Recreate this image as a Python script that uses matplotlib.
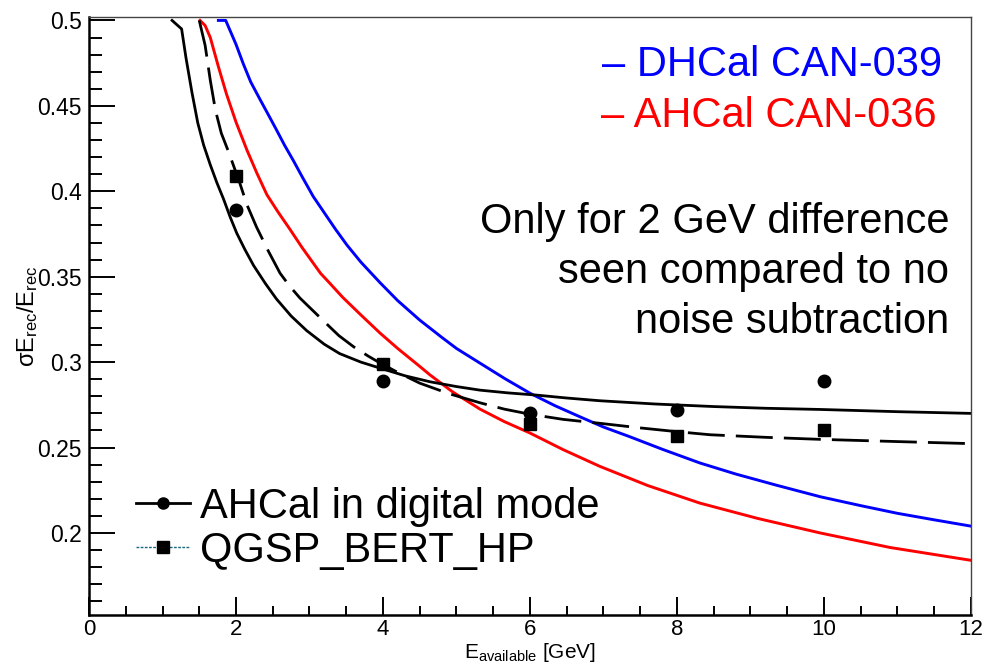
import matplotlib
matplotlib.use("Agg")
import matplotlib.pyplot as plt
from matplotlib.lines import Line2D
from matplotlib.ticker import MultipleLocator, FuncFormatter

plt.rcParams['font.family'] = ['Liberation Sans', 'DejaVu Sans']
plt.rcParams['mathtext.default'] = 'regular'

# ---- data ----
meas_E = [2, 4, 6, 8, 10]
ahcal_digital = [0.389, 0.289, 0.270, 0.272, 0.289]
qgsp_bert_hp = [0.409, 0.299, 0.264, 0.257, 0.260]

fit_digital_E = [1.13, 1.26, 1.32, 1.40, 1.48, 1.56, 1.65, 1.74, 1.83, 1.92, 2.01, 2.12,
                 2.24, 2.40, 2.55, 2.75, 2.96, 3.20, 3.41, 3.70, 3.96, 4.30, 4.64, 5.00,
                 5.32, 5.70, 6.09, 6.50, 6.95, 7.70, 8.50, 9.20, 9.95, 11.0, 12.0]
fit_digital_y = [0.500, 0.495, 0.478, 0.458, 0.440, 0.427, 0.4155, 0.405, 0.3955, 0.385,
                 0.3755, 0.366, 0.3565, 0.346, 0.337, 0.327, 0.3185, 0.3105, 0.305, 0.300,
                 0.2965, 0.292, 0.2885, 0.2857, 0.2836, 0.282, 0.2807, 0.279, 0.2774,
                 0.2755, 0.274, 0.273, 0.2723, 0.271, 0.270]

fit_qgsp_E = [1.50, 1.58, 1.65, 1.72, 1.80, 1.895, 2.00, 2.05, 2.15, 2.28, 2.44, 2.60,
              2.73, 2.87, 3.05, 3.23, 3.40, 3.60, 3.80, 3.96, 4.20, 4.50, 4.90, 5.32,
              5.65, 6.00, 6.45, 6.95, 7.50, 8.00, 8.45, 9.20, 9.95, 11.0, 12.0]
fit_qgsp_y = [0.500, 0.4854, 0.465, 0.4475, 0.434, 0.4235, 0.411, 0.405, 0.392, 0.379,
              0.365, 0.352, 0.3445, 0.3375, 0.330, 0.3225, 0.3155, 0.309, 0.3035, 0.2995,
              0.294, 0.2877, 0.2815, 0.2762, 0.2725, 0.2695, 0.2665, 0.2642, 0.2615,
              0.2593, 0.2575, 0.256, 0.2548, 0.2535, 0.2523]

dhcal_E = [1.76, 1.86, 2.00, 2.10, 2.20, 2.33, 2.45, 2.55, 2.66, 2.78, 2.90, 3.05, 3.20,
           3.35, 3.51, 3.70, 3.96, 4.20, 4.50, 4.80, 5.00, 5.32, 5.66, 6.00, 6.34, 6.68,
           7.00, 7.36, 7.80, 8.31, 8.80, 9.35, 9.95, 10.5, 11.0, 11.5, 12.0]
dhcal_y = [0.500, 0.500, 0.486, 0.4745, 0.464, 0.4535, 0.444, 0.436, 0.427, 0.418,
           0.4085, 0.397, 0.3875, 0.378, 0.3685, 0.3585, 0.3465, 0.336, 0.3246, 0.3145,
           0.308, 0.2994, 0.2903, 0.2818, 0.2745, 0.268, 0.262, 0.2563, 0.249, 0.241,
           0.2345, 0.228, 0.2212, 0.216, 0.2115, 0.2077, 0.204]

ahcal_E = [1.51, 1.58, 1.65, 1.76, 1.87, 2.00, 2.15, 2.28, 2.42, 2.57, 2.73, 2.90, 3.05,
           3.15, 3.28, 3.45, 3.69, 3.96, 4.20, 4.50, 4.64, 4.95, 5.32, 5.65, 6.00, 6.45,
           6.95, 7.60, 8.31, 9.10, 9.95, 10.9, 12.0]
ahcal_y = [0.500, 0.497, 0.490, 0.473, 0.457, 0.4405, 0.424, 0.411, 0.398, 0.388, 0.378,
           0.367, 0.358, 0.352, 0.346, 0.338, 0.328, 0.317, 0.308, 0.2975, 0.2925, 0.2825,
           0.2725, 0.2652, 0.2585, 0.2488, 0.2390, 0.2278, 0.2175, 0.2085, 0.200, 0.1915,
           0.184]

x_ticks = [0, 2, 4, 6, 8, 10, 12]
y_ticks = [0.2, 0.25, 0.3, 0.35, 0.4, 0.45, 0.5]

# ---- figure ----
fig = plt.figure(figsize=(9.86, 6.67), dpi=100)
ax = fig.add_axes([89/986, 1 - 615/667, 882/986, 598/667])

ax.plot(dhcal_E, dhcal_y, color='#0000ff', lw=2.1, solid_joinstyle='round')
ax.plot(ahcal_E, ahcal_y, color='#ff0000', lw=2.1, solid_joinstyle='round')
ax.plot(fit_digital_E, fit_digital_y, color='black', lw=2.0, solid_joinstyle='round')
ax.plot(fit_qgsp_E, fit_qgsp_y, color='black', lw=2.0, linestyle=(0, (13.3, 4.0)))

ax.plot(meas_E, ahcal_digital, 'o', color='black', ms=9, ls='none')
ax.plot(meas_E, qgsp_bert_hp, 's', color='black', ms=9, ls='none')

ax.set_xlim(0, 12)
ax.set_ylim(0.152, 0.502)
ax.set_xticks(x_ticks)
ax.set_yticks(y_ticks)
ax.xaxis.set_minor_locator(MultipleLocator(0.5))
ax.yaxis.set_minor_locator(MultipleLocator(0.01))
ax.yaxis.set_major_formatter(FuncFormatter(lambda v, p: '%g' % round(v, 3)))
ax.xaxis.set_major_formatter(FuncFormatter(lambda v, p: '%g' % v))

ax.tick_params(axis='both', which='both', direction='in', top=False, right=False,
               width=1.4, colors='black')
ax.tick_params(axis='y', which='major', length=18.5, pad=5, labelsize=16.5)
ax.tick_params(axis='y', which='minor', length=9)
ax.tick_params(axis='x', which='major', length=13, pad=3, labelsize=16)
ax.tick_params(axis='x', which='minor', length=6.5)

for s in ('left', 'bottom'):
    ax.spines[s].set_linewidth(1.8)
for s in ('top', 'right'):
    ax.spines[s].set_linewidth(1.0)
    ax.spines[s].set_color('#444444')

ax.set_ylabel('σE$_{rec}$/E$_{rec}$', fontsize=17)
ax.yaxis.set_label_coords(-0.0556, 0.5)

# x-axis title as a free text placed just below the tick labels
xlab = fig.text(0.5375, 0.0, 'E$_{available}$ [GeV]', fontsize=16, ha='center', va='bottom')

ax.text(0.967, 0.901, '– DHCal CAN-039', transform=ax.transAxes, ha='right',
        va='baseline', fontsize=30, color='#0000ff')
ax.text(0.961, 0.8165, '– AHCal CAN-036', transform=ax.transAxes, ha='right',
        va='baseline', fontsize=30, color='#ff0000')
for txt, yy in [('Only for 2 GeV difference', 0.6393),
                ('seen compared to no', 0.5547),
                ('noise subtraction', 0.4711)]:
    ax.text(0.9754, yy, txt, transform=ax.transAxes, ha='right', va='baseline',
            fontsize=30, color='black')

handles = [
    Line2D([], [], color='black', lw=2.0, marker='o', ms=8),
    Line2D([], [], color='#1a6a80', lw=1.0, ls=(0, (2, 1)), marker='s', ms=8,
           mfc='black', mec='black'),
]
ax.legend(handles, ['AHCal in digital mode', 'QGSP_BERT_HP'], loc='center left',
          bbox_to_anchor=(0.053, 0.144), frameon=False, fontsize=30,
          handlelength=1.3, handletextpad=0.25, labelspacing=0.1,
          borderpad=0, borderaxespad=0)

# layout: put the x title right under the tick labels, keeping it inside the figure
fig.canvas.draw()
r = fig.canvas.get_renderer()
tick_bottom = min(t.get_window_extent(r).y0 for t in ax.get_xticklabels())
fs = 16
while True:
    xlab.set_fontsize(fs)
    h = xlab.get_window_extent(r).height
    if h <= tick_bottom - 2 or fs <= 12:
        break
    fs -= 0.5
xlab.set_y(max(0.5, tick_bottom - 1 - h) / fig.bbox.height)

fig.savefig('out.png', dpi=100)
